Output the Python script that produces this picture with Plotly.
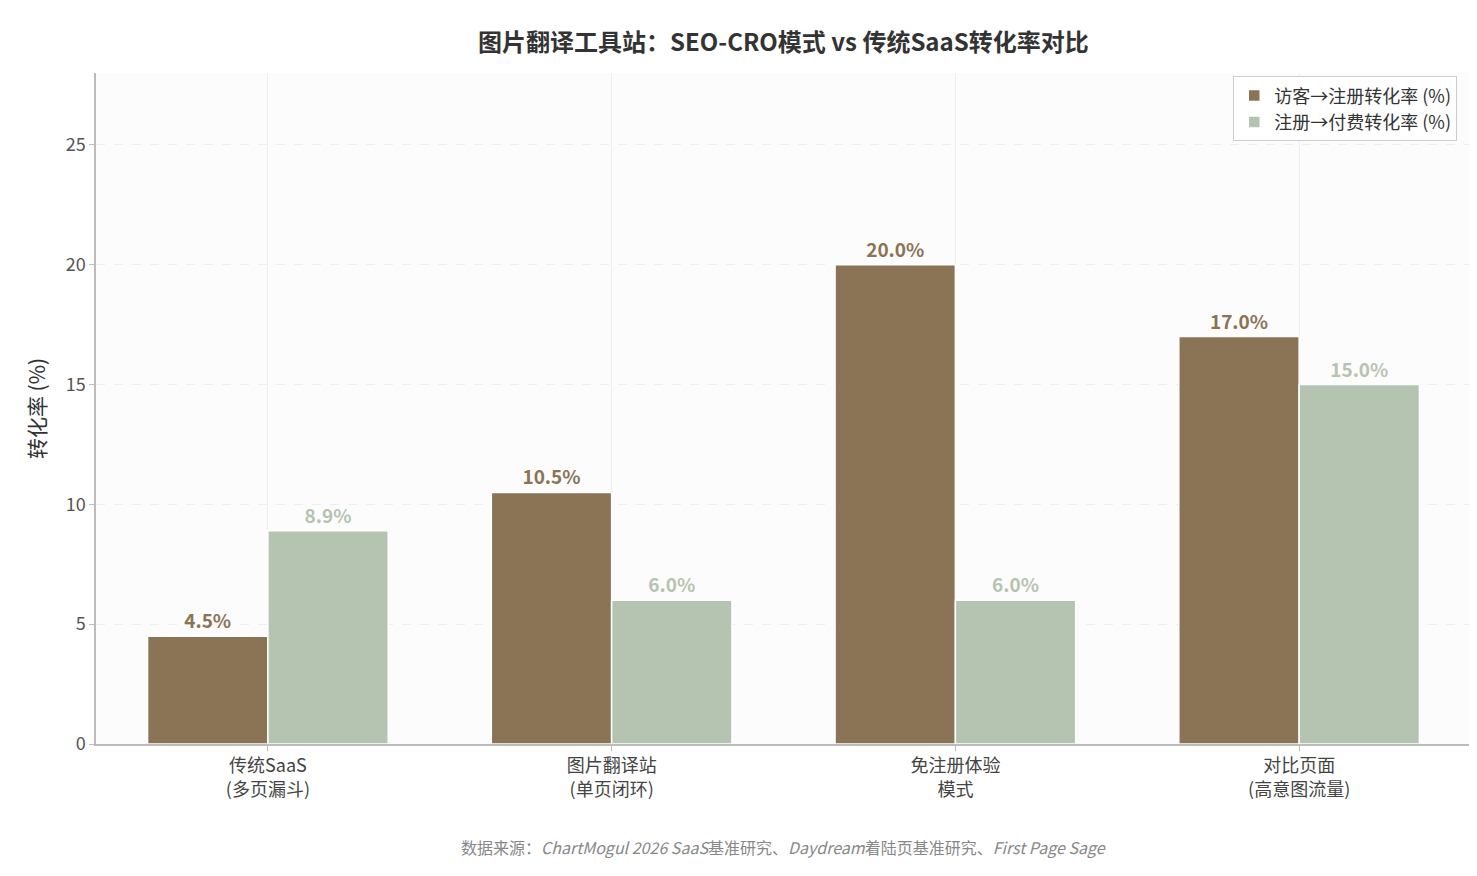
import plotly.graph_objects as go

categories = ["传统SaaS<br>(多页漏斗)", "图片翻译站<br>(单页闭环)", "免注册体验<br>模式", "对比页面<br>(高意图流量)"]
visit_to_signup = [4.5, 10.5, 20.0, 17.0]
signup_to_paid = [8.9, 6.0, 6.0, 15.0]

brown = "#8B7355"
green = "#B5C4B1"
font = "Noto Sans CJK SC, DejaVu Sans, sans-serif"

fig = go.Figure()
fig.add_trace(go.Bar(
    x=categories, y=visit_to_signup, name="访客→注册转化率 (%)",
    marker=dict(color=brown, line=dict(color="white", width=1.5)),
    text=[f"<b>{v:.1f}%</b>" for v in visit_to_signup], textposition="outside",
    textfont=dict(color=brown, size=19), cliponaxis=False,
))
fig.add_trace(go.Bar(
    x=categories, y=signup_to_paid, name="注册→付费转化率 (%)",
    marker=dict(color=green, line=dict(color="white", width=1.5)),
    text=[f"<b>{v:.1f}%</b>" for v in signup_to_paid], textposition="outside",
    textfont=dict(color=green, size=19), cliponaxis=False,
))

fig.update_layout(
    width=1477, height=876,
    margin=dict(l=88, r=14, t=65, b=140),
    paper_bgcolor="white", plot_bgcolor="#FCFCFC",
    font=dict(family=font, size=18, color="#555"),
    barmode="group", bargap=0.3, bargroupgap=0,
    title=dict(text="<b>图片翻译工具站：SEO-CRO模式 vs 传统SaaS转化率对比</b>",
               x=0.525, xanchor="center", y=0.97, font=dict(size=24, color="#333")),
    legend=dict(x=0.99, y=0.995, xanchor="right", yanchor="top",
                bgcolor="white", bordercolor="#ccc", borderwidth=1,
                font=dict(size=18, color="#333")),
    uniformtext=dict(minsize=10),
)
fig.update_xaxes(showline=True, linecolor="#bbb", linewidth=1.5, showgrid=True,
                 gridcolor="#eeeeee", ticks="outside", tickcolor="#bbb",
                 tickfont=dict(size=18, color="#444"))
fig.update_yaxes(range=[0, 28], dtick=5, showline=True, linecolor="#bbb", linewidth=1.5,
                 showgrid=True, gridcolor="#eeeeee", griddash="dash", zeroline=False,
                 ticks="outside", tickcolor="#bbb",
                 title=dict(text="转化率 (%)", font=dict(size=21, color="#333"), standoff=14),
                 tickfont=dict(size=18, color="#555"))
fig.add_annotation(
    text="数据来源：<i>ChartMogul 2026 SaaS</i>基准研究、<i>Daydream</i>着陆页基准研究、<i>First Page Sage</i>",
    xref="paper", yref="paper", x=0.5, y=-0.175, showarrow=False,
    font=dict(size=16, color="#888"))

fig.write_html("out.html")
